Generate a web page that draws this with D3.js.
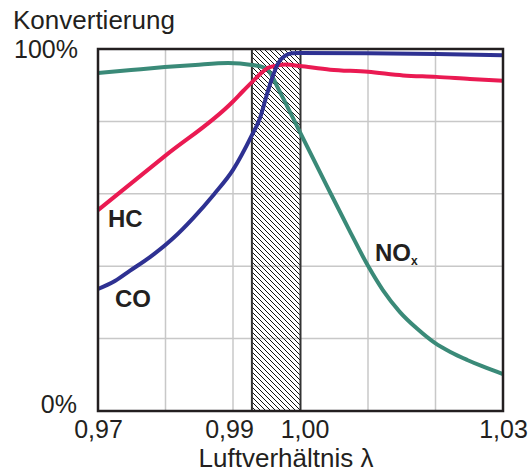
<!DOCTYPE html>
<html>
<head>
<meta charset="utf-8">
<script src="https://cdn.jsdelivr.net/npm/d3@7"></script>
<style>
body { margin: 0; background: #fff; }
text { font-family: "Liberation Sans", Arial, sans-serif; fill: #231f20; }
</style>
</head>
<body>
<svg width="531" height="473"></svg>
<script>
// values (lambda, conversion %)
const noxLambda = [0.970, 0.9749, 0.9799, 0.9844, 0.9893, 0.9928, 0.9944, 0.9952, 0.9958, 0.9965, 0.9977, 0.9999, 1.0039, 1.0073, 1.010, 1.0122, 1.0147, 1.0173, 1.0199, 1.0222, 1.0247, 1.0270, 1.030];
const noxValues = [93.4, 94.2, 95.0, 95.6, 96.1, 95.6, 95.0, 94.2, 92.5, 89.8, 85.4, 77.1, 62.2, 49.7, 40.1, 33.4, 27.4, 22.7, 18.8, 16.3, 14.1, 12.3, 10.2];

const hcLambda = [0.970, 0.9799, 0.990, 0.9915, 0.9930, 0.9942, 0.9952, 0.9964, 0.9979, 0.9999, 1.0044, 1.010, 1.0152, 1.0201, 1.0251, 1.030];
const hcValues = [55.5, 70.4, 85.5, 88.4, 91.2, 93.4, 94.8, 95.4, 95.7, 95.3, 94.3, 93.7, 92.7, 92.3, 91.7, 91.2];

const coLambda = [0.970, 0.9725, 0.9747, 0.9777, 0.9810, 0.9841, 0.9872, 0.990, 0.9928, 0.994, 0.9950, 0.9958, 0.9967, 0.9977, 0.9987, 0.9999, 1.010, 1.0201, 1.030];
const coValues = [33.7, 35.9, 38.7, 42.5, 47.5, 53.3, 59.9, 66.6, 76.2, 80.9, 87.3, 92.0, 96.1, 98.1, 98.8, 98.9, 98.8, 98.6, 98.3];

const xTicks = [0.97, 0.99, 1.00, 1.03];
const xGrid = [0.98, 0.99, 1.01, 1.02];
const yGrid = [20, 40, 60, 80];
const yTickLabels = ["0%", "100%"];
const lambdaWindow = [0.9928, 1.000];

let svg = d3.select("svg");

let pLeft = 98, pRight = 503, pTop = 49, pBottom = 411;

let xScale = d3.scaleLinear().domain([0.97, 1.03]).range([pLeft, pRight]);
let yScale = d3.scaleLinear().domain([0, 100]).range([pBottom, pTop]);

// hatch pattern for the lambda window
let defs = svg.append("defs");
let pat = defs.append("pattern")
    .attr("id", "hatch")
    .attr("patternUnits", "userSpaceOnUse")
    .attr("width", 5)
    .attr("height", 5);
pat.append("path")
    .attr("d", "M-1,-1 L6,6 M-1,4 L1,6 M4,-1 L6,1")
    .attr("stroke", "#111")
    .attr("stroke-width", 1);

// grid
svg.append("g").selectAll("line")
    .data(xGrid)
    .enter()
    .append("line")
    .attr("x1", d => xScale(d))
    .attr("x2", d => xScale(d))
    .attr("y1", pTop)
    .attr("y2", pBottom)
    .attr("stroke", "#c8c8c8")
    .attr("stroke-width", 1.5);

svg.append("g").selectAll("line")
    .data(yGrid)
    .enter()
    .append("line")
    .attr("x1", pLeft)
    .attr("x2", pRight)
    .attr("y1", d => yScale(d))
    .attr("y2", d => yScale(d))
    .attr("stroke", "#c8c8c8")
    .attr("stroke-width", 1.5);

// hatched window
svg.append("rect")
    .attr("x", xScale(lambdaWindow[0]))
    .attr("y", pTop)
    .attr("width", xScale(lambdaWindow[1]) - xScale(lambdaWindow[0]))
    .attr("height", pBottom - pTop)
    .attr("fill", "url(#hatch)")
    .attr("stroke", "#333")
    .attr("stroke-width", 2);

// curves
let line = (xs, ys) => d3.line()
    .x(i => xScale(xs[i]))
    .y(i => yScale(ys[i]))
    .curve(d3.curveMonotoneX)(d3.range(xs.length));

let series = [
    {xs: noxLambda, ys: noxValues, color: "#3a8a78"},
    {xs: hcLambda, ys: hcValues, color: "#ea1a52"},
    {xs: coLambda, ys: coValues, color: "#2e3192"}
];

svg.append("g").selectAll("path")
    .data(series)
    .enter()
    .append("path")
    .attr("d", s => line(s.xs, s.ys))
    .attr("fill", "none")
    .attr("stroke", s => s.color)
    .attr("stroke-width", 4)
    .attr("stroke-linejoin", "round");

// frame
svg.append("rect")
    .attr("x", pLeft)
    .attr("y", pTop)
    .attr("width", pRight - pLeft)
    .attr("height", pBottom - pTop)
    .attr("fill", "none")
    .attr("stroke", "#231f20")
    .attr("stroke-width", 2.5);

// x axis labels
let xAxis = d3.axisBottom(xScale)
    .tickValues(xTicks)
    .tickSize(0)
    .tickFormat(d => d3.format(".2f")(d).replace(".", ","));
let gx = svg.append("g")
    .attr("transform", "translate(0," + pBottom + ")")
    .call(xAxis);
gx.select(".domain").remove();
gx.selectAll("text")
    .attr("y", 27)
    .attr("dy", 0)
    .attr("fill", "#231f20")
    .style("font-size", "25px")
    .style("font-family", "'Liberation Sans', Arial, sans-serif")
    .attr("dx", d => d == 0.99 ? -4 : d == 1.00 ? 4 : 0);

// y labels
svg.append("text")
    .attr("x", 78).attr("y", 58)
    .attr("text-anchor", "end")
    .style("font-size", "25px")
    .text(yTickLabels[1]);
svg.append("text")
    .attr("x", 77).attr("y", 413)
    .attr("text-anchor", "end")
    .style("font-size", "25px")
    .text(yTickLabels[0]);

svg.append("text")
    .attr("x", 13).attr("y", 29)
    .style("font-size", "26px")
    .text("Konvertierung");

svg.append("text")
    .attr("x", 286).attr("y", 467)
    .attr("text-anchor", "middle")
    .style("font-size", "26px")
    .text("Luftverhältnis λ");

// series labels
svg.append("text")
    .attr("x", 108).attr("y", 227)
    .style("font-size", "24px")
    .style("font-weight", "bold")
    .text("HC");
svg.append("text")
    .attr("x", 115).attr("y", 307)
    .style("font-size", "24px")
    .style("font-weight", "bold")
    .text("CO");
let nox = svg.append("text")
    .attr("x", 375).attr("y", 261)
    .style("font-size", "24px")
    .style("font-weight", "bold");
nox.append("tspan").text("NO");
nox.append("tspan")
    .attr("dy", 4)
    .style("font-size", "12px")
    .text("x");
</script>
</body>
</html>
